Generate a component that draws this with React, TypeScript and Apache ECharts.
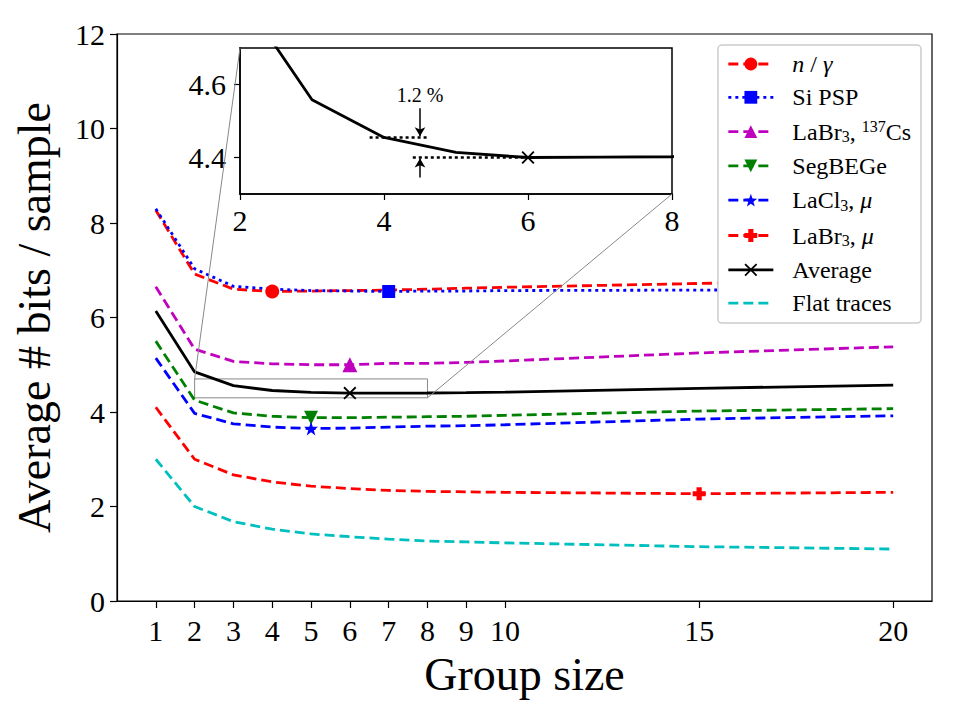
import React, { useEffect, useRef } from "react";
import * as echarts from "echarts";

const groupSizes = [1, 2, 3, 4, 5, 6, 7, 8, 9, 10, 15, 20];
const xTickLabels = [1, 2, 3, 4, 5, 6, 7, 8, 9, 10, 15, 20];
const yTickLabels = [0, 2, 4, 6, 8, 10, 12];
const insetYTicks = [4.4, 4.6];

const nGamma = [8.27, 6.92, 6.6, 6.55, 6.56, 6.57, 6.58, 6.6, 6.62, 6.64, 6.72, 6.8];
const siPsp = [8.3, 7.03, 6.66, 6.6, 6.57, 6.56, 6.55, 6.56, 6.56, 6.57, 6.58, 6.6];
const labr3Cs = [6.65, 5.33, 5.07, 5.02, 5.0, 5.0, 5.03, 5.03, 5.05, 5.08, 5.25, 5.38];
const segBEGe = [5.5, 4.25, 3.98, 3.91, 3.88, 3.88, 3.89, 3.9, 3.91, 3.93, 4.02, 4.07];
const lacl3Mu = [5.14, 3.97, 3.75, 3.68, 3.65, 3.66, 3.68, 3.7, 3.71, 3.73, 3.85, 3.92];
const labr3Mu = [4.1, 3.0, 2.67, 2.52, 2.43, 2.38, 2.34, 2.32, 2.31, 2.3, 2.27, 2.3];
const average = [6.14, 4.848, 4.558, 4.455, 4.414, 4.4, 4.401, 4.402, 4.41, 4.42, 4.5, 4.57];
const flatTraces = [3.0, 2.0, 1.68, 1.52, 1.42, 1.36, 1.31, 1.27, 1.25, 1.23, 1.15, 1.1];

const markerAt = {
  ngamma: 4,
  sipsp: 7,
  labr3cs: 6,
  segbege: 5,
  lacl3: 5,
  labr3mu: 15,
  average: 6,
};

const FONT = "Liberation Serif";

const SYM_DOWN = "path://M0,0 L10,0 L5,9 Z";
const SYM_STAR =
  "path://M5,0 L6.18,3.38 L9.76,3.45 L6.9,5.62 L7.94,9.05 L5,7 L2.06,9.05 L3.1,5.62 L0.24,3.45 L3.82,3.38 Z";
const SYM_PLUS = "path://M3,0 H7 V3 H10 V7 H7 V10 H3 V7 H0 V3 H3 Z";
const SYM_X =
  "path://M0,1 L1,0 L5,4 L9,0 L10,1 L6,5 L10,9 L9,10 L5,6 L1,10 L0,9 L4,5 Z";

const LW = 2.8;

function mkSeries(
  name: string,
  ys: number[],
  color: string,
  dash: any,
  symbol: string,
  size: number,
  markX: number | null,
  width = LW
) {
  const idx = markX == null ? -1 : groupSizes.indexOf(markX);
  return {
    name,
    type: "line",
    xAxisIndex: 0,
    yAxisIndex: 0,
    data: groupSizes.map((x, i) => [x, ys[i]]),
    symbol,
    showSymbol: true,
    symbolSize: (_v: any, p: any) => (p && p.dataIndex === idx ? size : 0),
    lineStyle: { color, width, type: dash },
    itemStyle: { color, borderWidth: 0 },
    z: 3,
    emphasis: { disabled: true },
  };
}

export default function App() {
  const ref = useRef<HTMLDivElement>(null);
  useEffect(() => {
    if (!ref.current) return;
    document.body.style.margin = "0";
    const chart = echarts.init(ref.current, null, { renderer: "svg" });
    const DASH = [10, 5];
    const seriesList: any[] = [
      mkSeries("n/γ", nGamma, "#ff0000", DASH, "circle", 14, markerAt.ngamma),
      mkSeries("Si PSP", siPsp, "#0000ff", [3, 4], "rect", 13, markerAt.sipsp),
      mkSeries("LaBr3, 137Cs", labr3Cs, "#bf00bf", DASH, "triangle", 15, markerAt.labr3cs),
      mkSeries("SegBEGe", segBEGe, "#008000", DASH, SYM_DOWN, 14, markerAt.segbege),
      mkSeries("LaCl3, μ", lacl3Mu, "#0000ff", DASH, SYM_STAR, 14, markerAt.lacl3),
      mkSeries("LaBr3, μ", labr3Mu, "#ff0000", DASH, SYM_PLUS, 13, markerAt.labr3mu),
      mkSeries("Average", average, "#000000", "solid", SYM_X, 13, markerAt.average),
      mkSeries("Flat traces", flatTraces, "#00bfbf", DASH, "none", 0, null),
    ];
    seriesList[6].markArea = {
      silent: true,
      itemStyle: { color: "rgba(0,0,0,0)", borderColor: "#888", borderWidth: 1 },
      data: [[{ coord: [2, 4.3] }, { coord: [8, 4.7] }]],
    };
    seriesList.push({
      name: "inset-average",
      type: "line",
      xAxisIndex: 1,
      yAxisIndex: 1,
      data: groupSizes.map((x, i) => [x, average[i]]),
      symbol: SYM_X,
      showSymbol: true,
      symbolSize: (_v: any, p: any) =>
        p && p.dataIndex === groupSizes.indexOf(markerAt.average) ? 13 : 0,
      lineStyle: { color: "#000", width: LW },
      itemStyle: { color: "#000" },
      clip: true,
      z: 5,
      emphasis: { disabled: true },
      markLine: {
        silent: true,
        symbol: ["none", "none"],
        label: { show: false },
        lineStyle: { color: "#000", width: 2.6, type: [3, 3] },
        data: [
          [{ coord: [3.8, 4.455] }, { coord: [4.6, 4.455] }],
          [{ coord: [4.4, 4.4] }, { coord: [6.0, 4.4] }],
        ],
      },
    });
    seriesList.push({
      name: "inset-arrows",
      type: "line",
      xAxisIndex: 1,
      yAxisIndex: 1,
      data: [],
      markLine: {
        silent: true,
        symbol: ["none", "arrow"],
        symbolSize: [8, 9],
        label: { show: false },
        lineStyle: { color: "#000", width: 1.5, type: "solid" },
        data: [
          [{ coord: [4.5, 4.535] }, { coord: [4.5, 4.458] }],
          [{ coord: [4.5, 4.345] }, { coord: [4.5, 4.397] }],
        ],
      },
      markPoint: {
        silent: true,
        symbol: "circle",
        symbolSize: 0,
        label: {
          show: true,
          formatter: "1.2 %",
          fontFamily: FONT,
          fontSize: 20,
          color: "#000",
        },
        data: [{ coord: [4.5, 4.572] }],
      },
    });

    const LH = 24;
    const base = { fontFamily: FONT, fontSize: 24, color: "#000", lineHeight: LH };
    const legendRich = {
      rm: { ...base },
      it: { ...base, fontStyle: "italic" },
      sb: { ...base, fontSize: 16, padding: [10, 0, 0, 0] },
      su: { ...base, fontSize: 16, padding: [0, 0, 10, 0] },
    };
    const legendFmt: Record<string, string> = {
      "n/γ": "{it|n}{rm| / }{it|γ}",
      "LaBr3, 137Cs": "{rm|LaBr}{sb|3}{rm|, }{su|137}{rm|Cs}",
      "LaCl3, μ": "{rm|LaCl}{sb|3}{rm|, }{it|μ}",
      "LaBr3, μ": "{rm|LaBr}{sb|3}{rm|, }{it|μ}",
    };

    const tickFont = { fontFamily: FONT, fontSize: 30, color: "#000" };

    const option: any = {
      animation: false,
      backgroundColor: "#fff",
      textStyle: { fontFamily: FONT },
      grid: [
        {
          left: 117,
          right: 28,
          top: 34,
          bottom: 119,
          show: true,
          borderColor: "#000",
          borderWidth: 1.2,
          backgroundColor: "transparent",
        },
        {
          left: 240,
          right: 288,
          top: 48,
          bottom: 526,
          show: true,
          borderColor: "#000",
          borderWidth: 1.5,
          backgroundColor: "#fff",
          z: 4,
        },
      ],
      xAxis: [
        {
          type: "value",
          gridIndex: 0,
          min: 0,
          max: 21,
          interval: 1,
          name: "Group size",
          nameLocation: "middle",
          nameGap: 50,
          nameTextStyle: { fontFamily: FONT, fontSize: 46, color: "#000" },
          axisLine: { lineStyle: { color: "#000", width: 1.2 } },
          axisTick: {
            show: true,
            length: 7,
            lineStyle: { color: "#000", width: 1.2 },
            customValues: xTickLabels,
          },
          axisLabel: { ...tickFont, margin: 14, customValues: xTickLabels },
          splitLine: { show: false },
        },
        {
          type: "value",
          gridIndex: 1,
          min: 2,
          max: 8,
          interval: 2,
          axisLine: { lineStyle: { color: "#000", width: 1.5 } },
          axisTick: { length: 6, lineStyle: { color: "#000", width: 1.2 } },
          axisLabel: { ...tickFont, margin: 11 },
          splitLine: { show: false },
          z: 4,
        },
      ],
      yAxis: [
        {
          type: "value",
          gridIndex: 0,
          min: 0,
          max: 12,
          interval: 2,
          name: "Average # bits / sample",
          nameLocation: "middle",
          nameGap: 60,
          nameTextStyle: { fontFamily: FONT, fontSize: 46, color: "#000" },
          axisLine: { lineStyle: { color: "#000", width: 1.2 } },
          axisTick: { length: 7, lineStyle: { color: "#000", width: 1.2 } },
          axisLabel: { ...tickFont, margin: 12, customValues: yTickLabels },
          splitLine: { show: false },
        },
        {
          type: "value",
          gridIndex: 1,
          min: 4.3,
          max: 4.7,
          axisLine: { lineStyle: { color: "#000", width: 1.5 } },
          axisTick: {
            length: 6,
            lineStyle: { color: "#000", width: 1.2 },
            customValues: insetYTicks,
          },
          axisLabel: {
            ...tickFont,
            margin: 14,
            customValues: insetYTicks,
            formatter: (v: number) => v.toFixed(1),
          },
          splitLine: { show: false },
          z: 4,
        },
      ],
      legend: {
        right: 39,
        top: 45,
        orient: "vertical",
        backgroundColor: "#fff",
        borderColor: "#cccccc",
        borderWidth: 1.5,
        borderRadius: 4,
        padding: [7, 10, 8, 9],
        itemGap: 9.3,
        itemWidth: 45,
        itemHeight: 16,
        lineStyle: { width: LW },
        data: [
          "n/γ",
          "Si PSP",
          "LaBr3, 137Cs",
          "SegBEGe",
          "LaCl3, μ",
          "LaBr3, μ",
          "Average",
          { name: "Flat traces", itemStyle: { opacity: 0, color: "rgba(0,0,0,0)" } },
        ],
        formatter: (name: string) => legendFmt[name] || name,
        textStyle: {
          fontFamily: FONT,
          fontSize: 24,
          lineHeight: LH,
          color: "#000",
          padding: [0, 0, 0, 14],
          rich: legendRich,
        },
        selectedMode: false,
        z: 10,
      },
      series: seriesList,
    };
    chart.setOption(option);

    const a1 = chart.convertToPixel({ gridIndex: 0 } as any, [2, 4.7]) as number[];
    const b1 = chart.convertToPixel({ gridIndex: 1 } as any, [2, 4.7]) as number[];
    const a2 = chart.convertToPixel({ gridIndex: 0 } as any, [8, 4.3]) as number[];
    const b2 = chart.convertToPixel({ gridIndex: 1 } as any, [8, 4.3]) as number[];
    chart.setOption({
      graphic: [
        {
          type: "line",
          shape: { x1: a1[0], y1: a1[1], x2: b1[0], y2: b1[1] },
          style: { stroke: "#888", lineWidth: 1 },
          z: 8,
          silent: true,
        },
        {
          type: "line",
          shape: { x1: a2[0], y1: a2[1], x2: b2[0], y2: b2[1] },
          style: { stroke: "#888", lineWidth: 1 },
          z: 8,
          silent: true,
        },
      ],
    });
    return () => chart.dispose();
  }, []);
  return <div ref={ref} style={{ width: 960, height: 720 }} />;
}
